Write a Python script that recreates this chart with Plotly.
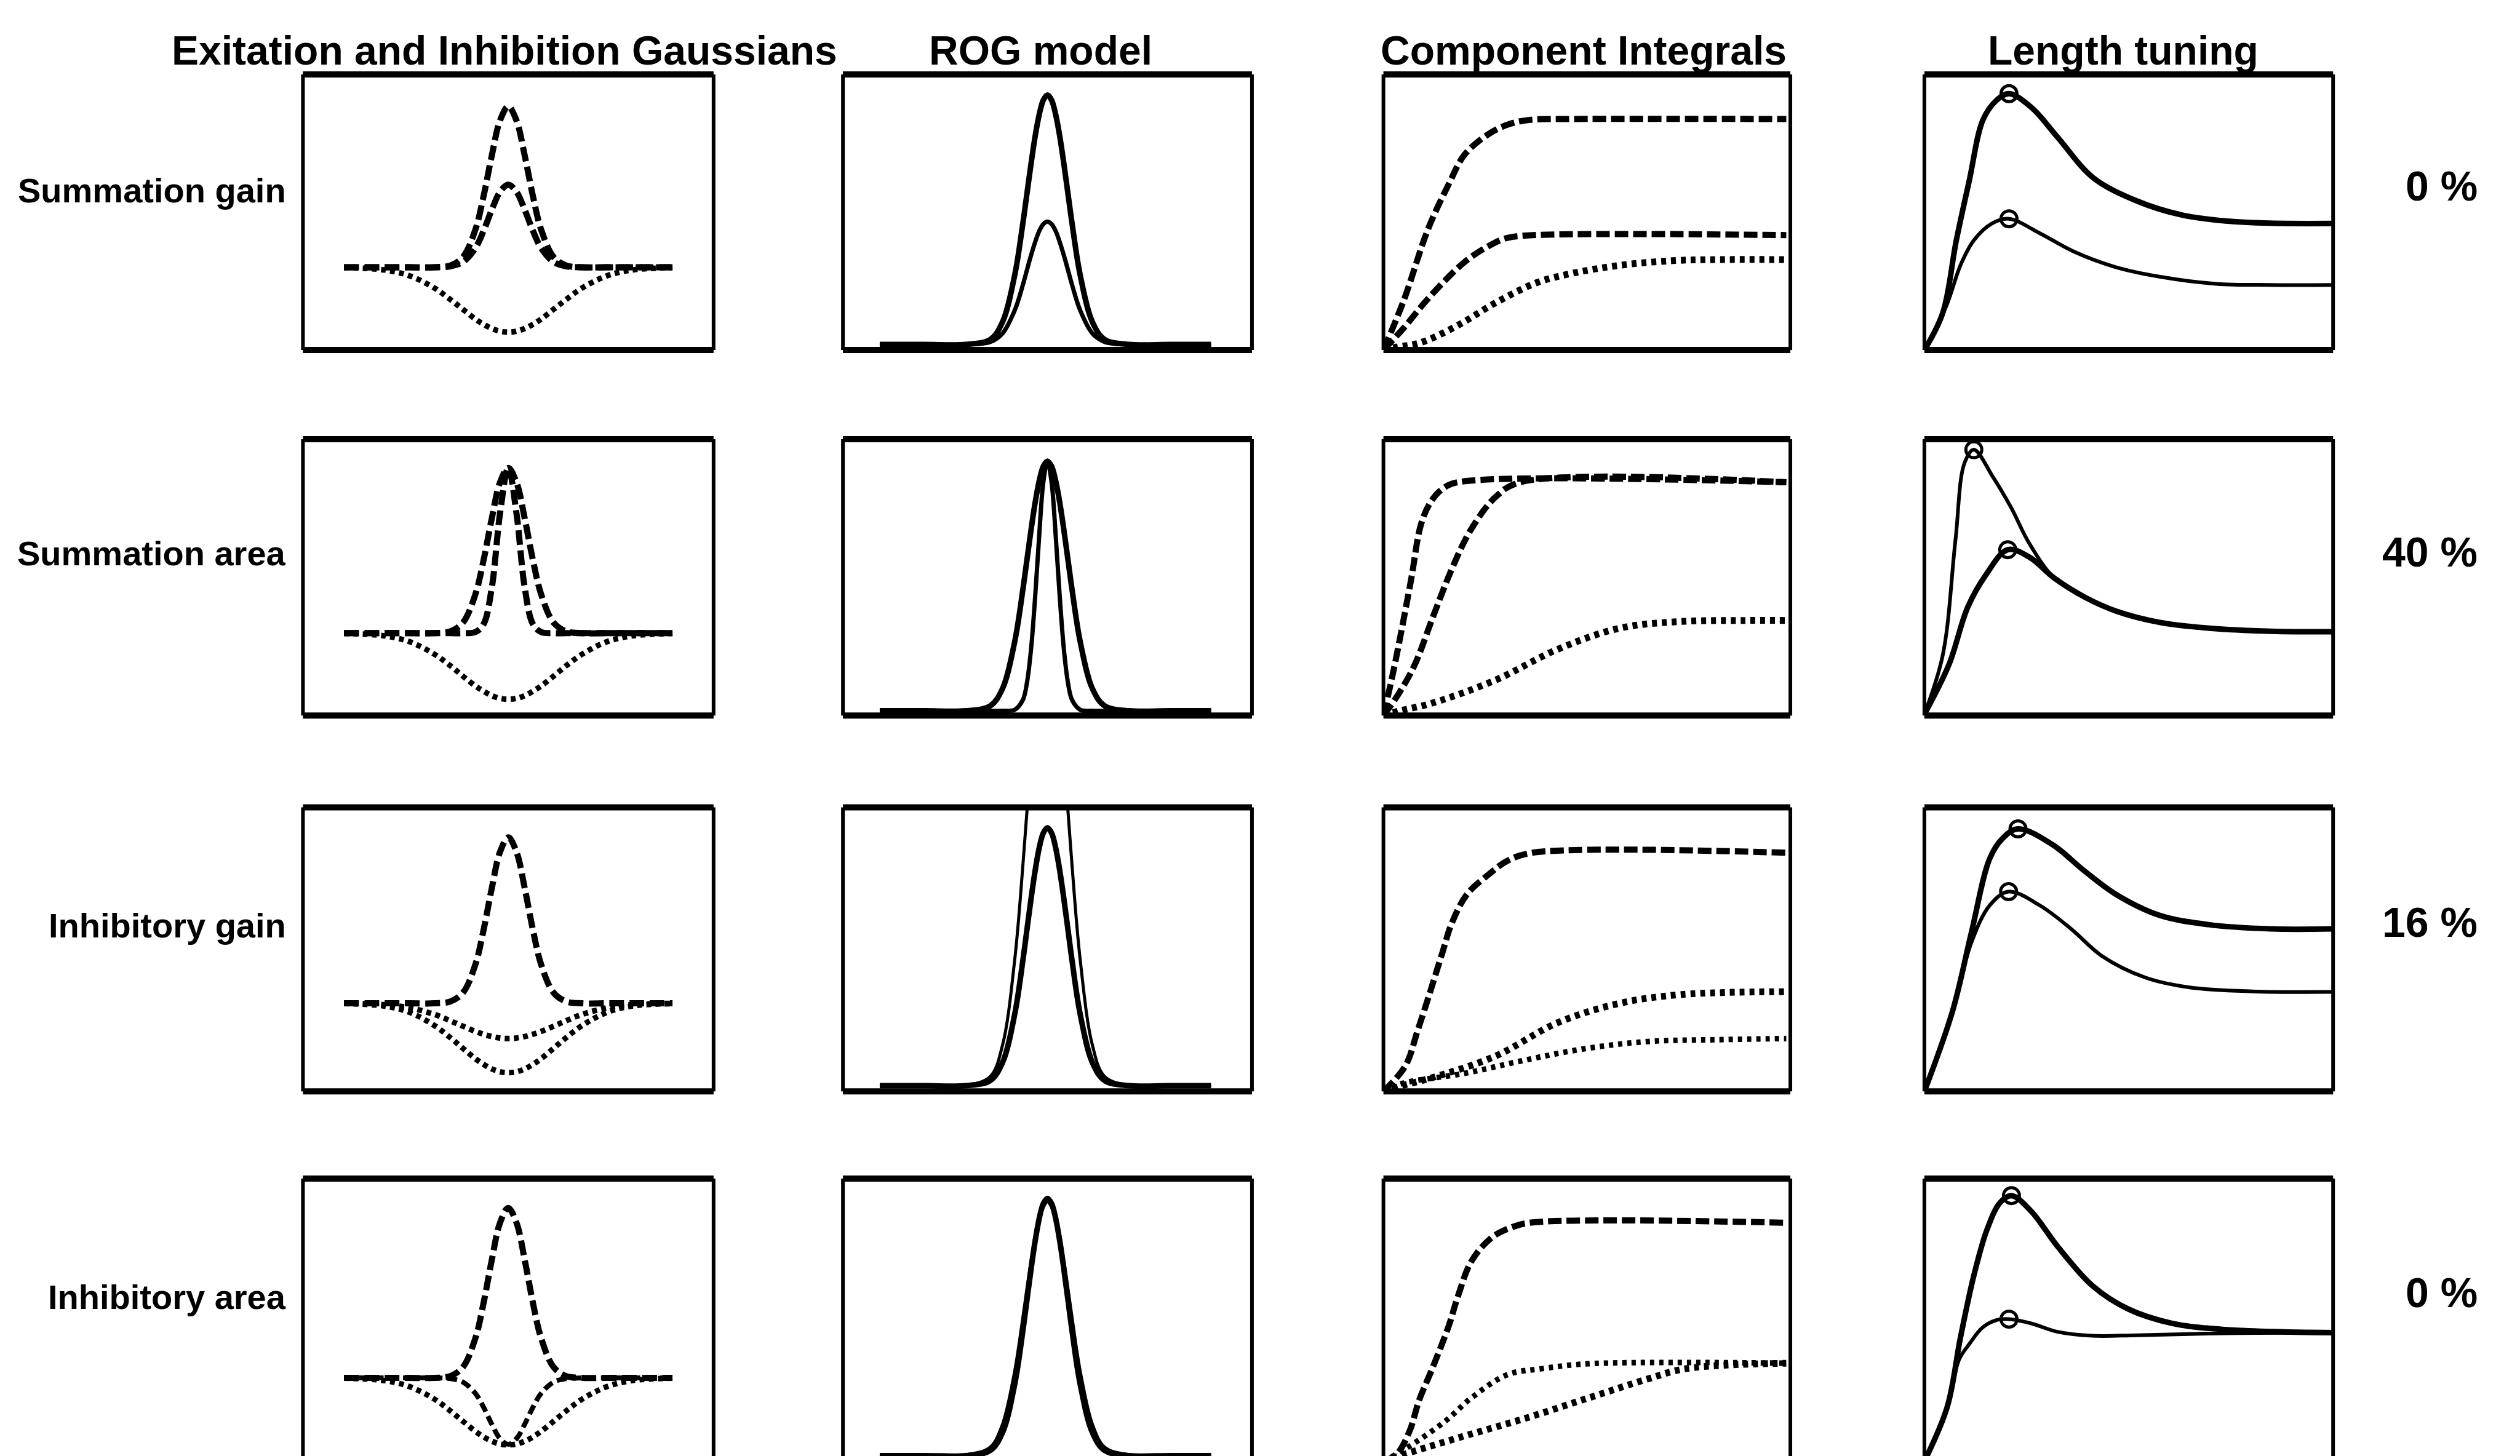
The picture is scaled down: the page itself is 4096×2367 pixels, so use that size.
import plotly.graph_objects as go

# ---------------- text ----------------
COL_TITLES = ["Exitation and Inhibition Gaussians", "ROG model", "Component Integrals", "Length tuning"]
ROW_LABELS = ["Summation gain", "Summation area", "Inhibitory gain", "Inhibitory area"]
PCT_LABELS = ["0 %", "40 %", "16 %", "0 %"]

# ---------------- column 1: excitation / inhibition Gaussians (panel %) ----------------
GAUSS_X = [10, 20, 26, 32, 36, 39, 42, 44, 46, 48, 50, 52, 54, 56, 58, 61, 64, 68, 74, 80, 90]
SG_EXC_BIG = [30, 30, 30, 30, 30.7, 33.8, 43.7, 55.9, 70.6, 83.3, 88.4, 83.3, 70.6, 55.9, 43.7, 33.8, 30.7, 30, 30, 30, 30]
SG_EXC_SMALL = [30, 30, 30, 30, 30.4, 32.0, 37.0, 43.3, 50.9, 57.4, 60.0, 57.4, 50.9, 43.3, 37.0, 32.0, 30.4, 30, 30, 30, 30]
SG_INH = [29.9, 29.0, 26.9, 22.5, 18.2, 14.7, 11.2, 9.3, 7.8, 6.8, 6.5, 6.8, 7.8, 9.3, 11.2, 14.7, 18.2, 22.5, 26.9, 29.0, 29.9]
SA_EXC_WIDE = [29.8, 29.8, 29.8, 29.8, 30.5, 33.7, 43.9, 56.3, 71.4, 84.4, 89.6, 84.4, 71.4, 56.3, 43.9, 33.7, 30.5, 29.8, 29.8, 29.8, 29.8]
SA_EXC_NARROW = [29.8, 29.8, 29.8, 29.8, 29.8, 29.8, 30.2, 33.1, 46.4, 73.2, 89.6, 73.2, 46.4, 33.1, 30.2, 29.8, 29.8, 29.8, 29.8, 29.8, 29.8]
SA_INH = [29.7, 28.8, 26.7, 22.2, 17.9, 14.2, 10.7, 8.8, 7.2, 6.2, 5.9, 6.2, 7.2, 8.8, 10.7, 14.2, 17.9, 22.2, 26.7, 28.8, 29.7]
IG_EXC = [31, 31, 31, 31, 31.7, 34.8, 44.7, 56.9, 71.6, 84.3, 89.4, 84.3, 71.6, 56.9, 44.7, 34.8, 31.7, 31, 31, 31, 31]
IG_INH_STRONG = [30.9, 30.0, 27.8, 23.2, 18.8, 15.1, 11.5, 9.5, 7.9, 6.9, 6.6, 6.9, 7.9, 9.5, 11.5, 15.1, 18.8, 23.2, 27.8, 30.0, 30.9]
IG_INH_WEAK = [31.0, 30.5, 29.4, 27.1, 24.8, 22.9, 21.1, 20.1, 19.3, 18.8, 18.6, 18.8, 19.3, 20.1, 21.1, 22.9, 24.8, 27.1, 29.4, 30.5, 31.0]
IA_EXC = [29.5, 29.5, 29.5, 29.5, 30.2, 33.4, 43.6, 56.1, 71.3, 84.4, 89.6, 84.4, 71.3, 56.1, 43.6, 33.4, 30.2, 29.5, 29.5, 29.5, 29.5]
IA_INH_WIDE = [29.4, 28.5, 26.4, 22.0, 17.7, 14.1, 10.6, 8.6, 7.1, 6.1, 5.8, 6.1, 7.1, 8.6, 10.6, 14.1, 17.7, 22.0, 26.4, 28.5, 29.4]
IA_INH_NARROW = [29.5, 29.5, 29.5, 29.5, 29.2, 28.0, 24.0, 19.1, 13.1, 8.0, 6.0, 8.0, 13.1, 19.1, 24.0, 28.0, 29.2, 29.5, 29.5, 29.5, 29.5]

# ---------------- column 2: ROG model ----------------
ROG_X = [9, 20, 30, 36, 39, 42, 44, 45, 46, 47, 48, 49, 50, 51, 52, 53, 54, 55, 56, 58, 61, 64, 70, 80, 90]
SG_ROG_HIGH = [2, 2, 2, 3.8, 10.1, 27.2, 46.1, 56.9, 67.7, 77.6, 85.5, 90.7, 92.5, 90.7, 85.5, 77.6, 67.7, 56.9, 46.1, 27.2, 10.1, 3.8, 2, 2, 2]
SG_ROG_LOW = [2, 2, 2, 2.9, 6.0, 14.4, 23.7, 29.1, 34.4, 39.2, 43.2, 45.7, 46.6, 45.7, 43.2, 39.2, 34.4, 29.1, 23.7, 14.4, 6.0, 2.9, 2, 2, 2]
SA_ROG_WIDE = [1.7, 1.7, 1.7, 3.5, 9.7, 26.8, 45.7, 56.5, 67.3, 77.1, 85.0, 90.2, 92.0, 90.2, 85.0, 77.1, 67.3, 56.5, 45.7, 26.8, 9.7, 3.5, 1.7, 1.7, 1.7]
SA_ROG_NARROW = [1.7, 1.7, 1.7, 1.7, 1.7, 2.1, 5.7, 12.0, 24.2, 43.1, 65.5, 84.5, 92.0, 84.5, 65.5, 43.1, 24.2, 12.0, 5.7, 2.1, 1.7, 1.7, 1.7, 1.7, 1.7]
IG_ROG_NORMAL = [2, 2, 2, 3.8, 10.1, 27.2, 46.2, 57.1, 67.9, 77.8, 85.8, 91.0, 92.8, 91.0, 85.8, 77.8, 67.9, 57.1, 46.2, 27.2, 10.1, 3.8, 2, 2, 2]
IG_ROG_HIGH = [2, 2, 2.1, 5.2, 16.2, 46.4, 79.7, 98.9, 117.9, 135.3, 149.3, 158.4, 161.6, 158.4, 149.3, 135.3, 117.9, 98.9, 79.7, 46.4, 16.2, 5.2, 2.1, 2, 2]
IA_ROG_A = [2, 2, 2, 3.8, 10.1, 27.3, 46.3, 57.2, 68.1, 78.0, 86.0, 91.2, 93.0, 91.2, 86.0, 78.0, 68.1, 57.2, 46.3, 27.3, 10.1, 3.8, 2, 2, 2]
IA_ROG_B = [2, 2, 2.1, 4.7, 12.4, 30.8, 49.4, 59.7, 69.7, 78.7, 85.8, 90.4, 92.0, 90.4, 85.8, 78.7, 69.7, 59.7, 49.4, 30.8, 12.4, 4.7, 2.1, 2, 2]

# ---------------- column 3: component integrals ----------------
SG_INT_EXC_BIG_X = [0, 5, 11, 16, 20, 26, 31, 36, 45, 99]
SG_INT_EXC_BIG_Y = [0, 18, 44, 60, 71, 78.5, 82, 83.5, 83.8, 83.8]
SG_INT_EXC_SMALL_X = [0, 5, 10, 15, 20, 25, 30, 36, 99]
SG_INT_EXC_SMALL_Y = [0, 8, 17, 25, 32, 37, 40.5, 41.6, 41.7]
SG_INT_INH_X = [0, 3, 9, 18, 28, 38, 47, 58, 71, 83, 99]
SG_INT_INH_Y = [0, 1, 2.6, 8.7, 17.5, 24.6, 28, 30.7, 32.4, 32.8, 32.8]

SA_INT_EXC_NARROW_X = [0, 2.3, 4.6, 6.9, 9.2, 11.5, 14.5, 18.3, 99]
SA_INT_EXC_NARROW_Y = [0, 15, 32, 50, 69, 77, 82, 84.4, 84.4]
SA_INT_EXC_WIDE_X = [0, 3.8, 7.7, 12.2, 16.8, 21.4, 27.5, 33.6, 99]
SA_INT_EXC_WIDE_Y = [0, 8, 18.4, 35.8, 53, 67, 79, 84.4, 84.4]
SA_INT_INH_X = [0, 4, 12, 27.5, 42.7, 58, 73, 88.6, 99]
SA_INT_INH_Y = [0, 1.7, 4.5, 12.8, 23.9, 31.6, 34, 34.4, 34.4]

IG_INT_EXC_X = [0, 5.4, 8.4, 11.5, 14.5, 16.8, 20.6, 25.9, 30.5, 36.6, 99]
IG_INT_EXC_Y = [0, 9, 21.4, 35.1, 48.9, 59.2, 69.5, 76.4, 81.2, 84, 84]
IG_INT_INH_STRONG_X = [0, 4, 12.2, 27.5, 42.7, 58, 73.3, 99]
IG_INT_INH_STRONG_Y = [0, 1.8, 4.9, 12.4, 24.1, 31, 34.1, 35.1]
IG_INT_INH_WEAK_X = [0, 4.6, 19.8, 35.1, 50.3, 65.5, 82.3, 99]
IG_INT_INH_WEAK_Y = [0, 2.8, 6.3, 11.1, 15.2, 17.6, 18.2, 18.6]

IA_INT_EXC_X = [0, 3.2, 6.4, 8.8, 12, 16, 18.4, 21.6, 26.4, 31.2, 36, 99]
IA_INT_EXC_Y = [0, 2.4, 10.6, 21.7, 32.8, 47.7, 58.8, 70.7, 78.9, 82.6, 84.4, 84.4]
IA_INT_INH_NARROW_X = [0, 5.6, 15.2, 21.6, 30.4, 39.2, 50.4, 99]
IA_INT_INH_NARROW_Y = [0, 4.6, 14.2, 22.4, 30.6, 32.8, 34.5, 34.7]
IA_INT_INH_WIDE_X = [0, 3, 18.4, 34.4, 50.4, 64.9, 74.5, 99]
IA_INT_INH_WIDE_Y = [0, 1.5, 8.3, 15, 22.4, 29.1, 32.8, 34.7]

# ---------------- column 4: length tuning ----------------
SG_LEN_HIGH_X = [0, 4.5, 7.8, 11, 14.3, 17.5, 20.7, 26.2, 32.7, 41.3, 52.1, 62.9, 73.7, 84.6, 100]
SG_LEN_HIGH_Y = [0, 13.5, 39.7, 61.6, 83.4, 90.4, 93, 88, 77, 62.5, 54, 49, 46.8, 46, 45.9]
SG_LEN_LOW_X = [0, 5.4, 8.9, 12.1, 16.4, 20.7, 28.3, 37, 46.7, 57.5, 71.5, 84.6, 100]
SG_LEN_LOW_Y = [0, 16.1, 31, 39.8, 45.8, 47.6, 42.3, 35.4, 30.1, 26.6, 24, 23.6, 23.6]

SA_LEN_NARROW_X = [0, 4.5, 7.6, 9.8, 12.1, 16.7, 21.2, 25.7, 31.8, 39.4, 46.9, 57.6, 69.7, 84.8, 100]
SA_LEN_NARROW_Y = [0.5, 21.9, 63.5, 91.3, 96.2, 86.5, 75.3, 62.2, 49.7, 42.7, 37.8, 33.7, 31.6, 30.5, 30.3]
SA_LEN_WIDE_X = [0, 6, 10.6, 15.1, 20.4, 25.7, 31.8, 39.4, 46.9, 57.6, 69.7, 84.8, 100]
SA_LEN_WIDE_Y = [0.5, 18.4, 39.2, 51, 60, 57.3, 49.7, 42.7, 37.8, 33.7, 31.6, 30.5, 30.3]

IG_LEN_HIGH_X = [0, 6.9, 11.5, 16, 19.1, 22.9, 31.3, 38.9, 46.6, 57.3, 69.5, 84.7, 100]
IG_LEN_HIGH_Y = [0, 28.3, 55.9, 82, 89, 92.4, 86.9, 77.9, 69.6, 62.1, 58.7, 57.2, 57.2]
IG_LEN_LOW_X = [0, 6.9, 11.5, 16, 20.6, 28.2, 35.9, 43.5, 54.2, 64.9, 80.2, 100]
IG_LEN_LOW_Y = [0, 28.3, 52.4, 65.5, 70.3, 65.5, 57.2, 47.6, 40, 36.6, 35.2, 35]

IA_LEN_HIGH_X = [0, 5.6, 8.8, 12.1, 15.3, 18.5, 21.3, 26.1, 32.6, 41.2, 49.8, 60.6, 73.6, 100]
IA_LEN_HIGH_Y = [0, 19.3, 43.6, 65.7, 81.9, 91.5, 94, 88.5, 76, 62, 53.9, 48.8, 46.6, 45.5]
IA_LEN_LOW_X = [0, 5.6, 8.5, 11, 14.2, 17.5, 20.7, 26.1, 32.6, 41.2, 52, 73.6, 100]
IA_LEN_LOW_Y = [0, 19.3, 36, 41.5, 47.3, 49.9, 50.3, 48.8, 45.8, 44.4, 44.6, 45.3, 45.5]

# ---------------- layout geometry (reference pixels, 1568-wide scale) ----------------
W, H = 4096, 2367
REF_W = 1568.0
REF_H = H * REF_W / W
COL_L = [188.5, 524.5, 860.8, 1197.4]
COL_R = [444.0, 779.0, 1114.0, 1451.7]
ROW_T = [46.3, 273.3, 502.4, 733.5]
ROW_B = [217.8, 445.3, 679.2, 909.4]
TITLE_X = [313.8, 647.7, 985.4, 1320.9]
TITLE_Y = 31.2
LABEL_RIGHT = 178.8
LABEL_Y = [118.4, 344.2, 575.8, 807.2]
PCT_RIGHT = 1542.5
PCT_Y = [115.8, 343.5, 573.8, 804.3]

FONT = "Liberation Sans, Arial, Helvetica, sans-serif"

# ---------------- styles ----------------
EXC = dict(color="black", width=10, dash="24px,9px")
INH = dict(color="black", width=9, dash="8px,7px")
INH_DASH = dict(color="black", width=8, dash="16px,8px")
ROG_THICK = dict(color="black", width=9)
ROG_MID = dict(color="black", width=7)
ROG_THIN = dict(color="black", width=5)
INT_EXC = dict(color="black", width=10, dash="22px,8px")
INT_INH = dict(color="black", width=11, dash="8px,8px")
INT_INH_SMALL = dict(color="black", width=9, dash="7px,8px")
LEN_HIGH = dict(color="black", width=9)
LEN_LOW = dict(color="black", width=6)

PANELS = {
    (0, 0): [(GAUSS_X, SG_INH, INH), (GAUSS_X, SG_EXC_BIG, EXC), (GAUSS_X, SG_EXC_SMALL, EXC)],
    (1, 0): [(GAUSS_X, SA_INH, INH), (GAUSS_X, SA_EXC_WIDE, EXC), (GAUSS_X, SA_EXC_NARROW, EXC)],
    (2, 0): [(GAUSS_X, IG_INH_STRONG, INH), (GAUSS_X, IG_INH_WEAK, INH), (GAUSS_X, IG_EXC, EXC)],
    (3, 0): [(GAUSS_X, IA_INH_WIDE, INH), (GAUSS_X, IA_INH_NARROW, INH_DASH), (GAUSS_X, IA_EXC, EXC)],
    (0, 1): [(ROG_X, SG_ROG_HIGH, ROG_THICK), (ROG_X, SG_ROG_LOW, ROG_MID)],
    (1, 1): [(ROG_X, SA_ROG_WIDE, ROG_THICK), (ROG_X, SA_ROG_NARROW, ROG_MID)],
    (2, 1): [(ROG_X, IG_ROG_NORMAL, ROG_THICK), (ROG_X, IG_ROG_HIGH, ROG_THIN)],
    (3, 1): [(ROG_X, IA_ROG_A, ROG_THICK), (ROG_X, IA_ROG_B, ROG_MID)],
    (0, 2): [(SG_INT_EXC_BIG_X, SG_INT_EXC_BIG_Y, INT_EXC), (SG_INT_EXC_SMALL_X, SG_INT_EXC_SMALL_Y, INT_EXC),
             (SG_INT_INH_X, SG_INT_INH_Y, INT_INH)],
    (1, 2): [(SA_INT_EXC_NARROW_X, SA_INT_EXC_NARROW_Y, INT_EXC), (SA_INT_EXC_WIDE_X, SA_INT_EXC_WIDE_Y, INT_EXC),
             (SA_INT_INH_X, SA_INT_INH_Y, INT_INH)],
    (2, 2): [(IG_INT_EXC_X, IG_INT_EXC_Y, INT_EXC), (IG_INT_INH_STRONG_X, IG_INT_INH_STRONG_Y, INT_INH),
             (IG_INT_INH_WEAK_X, IG_INT_INH_WEAK_Y, INT_INH_SMALL)],
    (3, 2): [(IA_INT_EXC_X, IA_INT_EXC_Y, INT_EXC), (IA_INT_INH_NARROW_X, IA_INT_INH_NARROW_Y, INT_INH_SMALL),
             (IA_INT_INH_WIDE_X, IA_INT_INH_WIDE_Y, INT_INH)],
    (0, 3): [(SG_LEN_HIGH_X, SG_LEN_HIGH_Y, LEN_HIGH), (SG_LEN_LOW_X, SG_LEN_LOW_Y, LEN_LOW)],
    (1, 3): [(SA_LEN_WIDE_X, SA_LEN_WIDE_Y, LEN_HIGH), (SA_LEN_NARROW_X, SA_LEN_NARROW_Y, LEN_LOW)],
    (2, 3): [(IG_LEN_HIGH_X, IG_LEN_HIGH_Y, LEN_HIGH), (IG_LEN_LOW_X, IG_LEN_LOW_Y, LEN_LOW)],
    (3, 3): [(IA_LEN_HIGH_X, IA_LEN_HIGH_Y, LEN_HIGH), (IA_LEN_LOW_X, IA_LEN_LOW_Y, LEN_LOW)],
}


def px(xr):
    return xr / REF_W


def py(yr):
    return 1 - yr / REF_H


fig = go.Figure()
layout = dict(
    width=W, height=H, margin=dict(l=0, r=0, t=0, b=0, pad=0),
    paper_bgcolor="white", plot_bgcolor="white", showlegend=False,
)
shapes = []
annotations = []

idx = 0
for r in range(4):
    for c in range(4):
        idx += 1
        sfx = "" if idx == 1 else str(idx)
        top, bot = ROW_T[r], ROW_B[r]
        vis_bot = min(bot, REF_H)
        y_lo = (bot - vis_bot) / (bot - top) * 100.0
        layout["xaxis" + sfx] = dict(domain=[px(COL_L[c]), px(COL_R[c])], range=[0, 100], visible=False,
                                     anchor="y" + sfx, fixedrange=True)
        layout["yaxis" + sfx] = dict(domain=[max(0.0, py(bot)), py(top)], range=[y_lo, 100], visible=False,
                                     anchor="x" + sfx, fixedrange=True)
        for xs, ys, st in PANELS[(r, c)]:
            fig.add_trace(go.Scatter(x=xs, y=ys, mode="lines", line=dict(shape="spline", smoothing=1.0, **st),
                                     xaxis="x" + sfx, yaxis="y" + sfx, hoverinfo="skip"))
            if c == 3:
                k = ys.index(max(ys))
                fig.add_trace(go.Scatter(x=[xs[k]], y=[ys[k]], mode="markers",
                                         marker=dict(symbol="circle-open", size=26, color="black",
                                                     line=dict(width=5, color="black")),
                                         xaxis="x" + sfx, yaxis="y" + sfx, hoverinfo="skip"))
        # frame
        x0, x1 = px(COL_L[c]), px(COL_R[c])
        y0, y1 = py(bot), py(top)
        for (a, b, cc, d, w) in [(x0, y1, x1, y1, 10), (x0, y0, x1, y0, 10), (x0, y0, x0, y1, 6), (x1, y0, x1, y1, 6)]:
            shapes.append(dict(type="line", xref="paper", yref="paper", x0=a, y0=b, x1=cc, y1=d,
                               line=dict(color="black", width=w)))

for c, t in enumerate(COL_TITLES):
    annotations.append(dict(text="<b>" + t + "</b>", x=px(TITLE_X[c]), y=py(TITLE_Y), xref="paper", yref="paper",
                            xanchor="center", yanchor="middle", showarrow=False,
                            font=dict(family=FONT, size=66, color="black")))
for r, t in enumerate(ROW_LABELS):
    annotations.append(dict(text="<b>" + t + "</b>", x=px(LABEL_RIGHT), y=py(LABEL_Y[r]), xref="paper", yref="paper",
                            xanchor="right", yanchor="middle", showarrow=False,
                            font=dict(family=FONT, size=56, color="black")))
for r, t in enumerate(PCT_LABELS):
    annotations.append(dict(text="<b>" + t + "</b>", x=px(PCT_RIGHT), y=py(PCT_Y[r]), xref="paper", yref="paper",
                            xanchor="right", yanchor="middle", showarrow=False,
                            font=dict(family=FONT, size=68, color="black")))

layout["shapes"] = shapes
layout["annotations"] = annotations
fig.update_layout(**layout)
fig.write_html("out.html")
